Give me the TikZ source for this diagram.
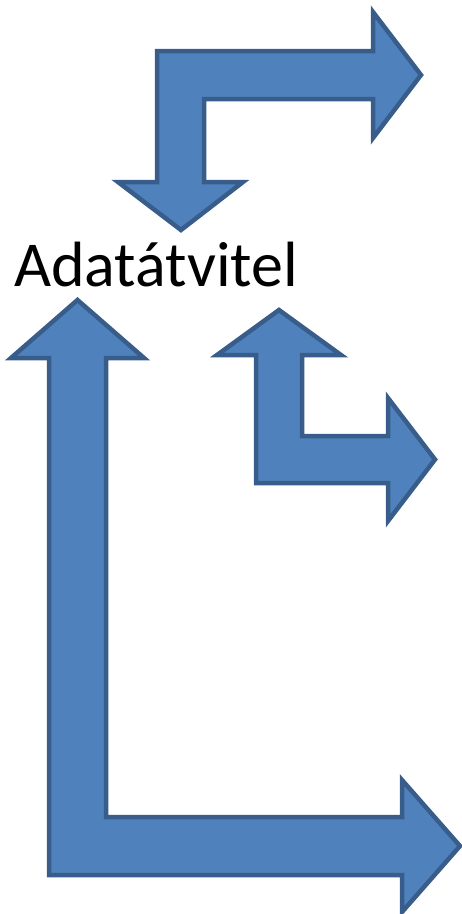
\documentclass[tikz,border=0pt]{standalone}
\usepackage{fontspec}
\setmainfont{Carlito}
\definecolor{arrowfill}{HTML}{4F81BD}
\definecolor{arrowline}{HTML}{385D8A}
\begin{document}
\begin{tikzpicture}[x=1pt,y=-1pt,
  bentarrow/.style={fill=arrowfill,draw=arrowline,line width=4.5pt,line join=miter},
  labeltext/.style={inner sep=0pt,anchor=base west,font=\fontsize{64}{76}\selectfont}]
\useasboundingbox (0,0) rectangle (462,914);
% top bent arrow
\draw[bentarrow] (181,230) -- (243,182) -- (204,182) -- (204,99) -- (373,99) -- (373,138)
  -- (421,75) -- (373,12) -- (373,51) -- (157,51) -- (157,182) -- (118,182) -- cycle;
% label
\node[labeltext] (label) at (14,286) {Adatátvitel};
% middle bent arrow
\draw[bentarrow] (279,310) -- (341,355) -- (302,355) -- (302,436) -- (388,436) -- (388,398)
  -- (435,459.5) -- (388,521) -- (388,483) -- (256,483) -- (256,355) -- (217,355) -- cycle;
% large L arrow
\draw[bentarrow] (77.5,300) -- (144,358) -- (106,358) -- (106,817) -- (402,817) -- (402,780)
  -- (460,846) -- (402,912) -- (402,875) -- (49,875) -- (49,358) -- (11,358) -- cycle;
\end{tikzpicture}
\end{document}
